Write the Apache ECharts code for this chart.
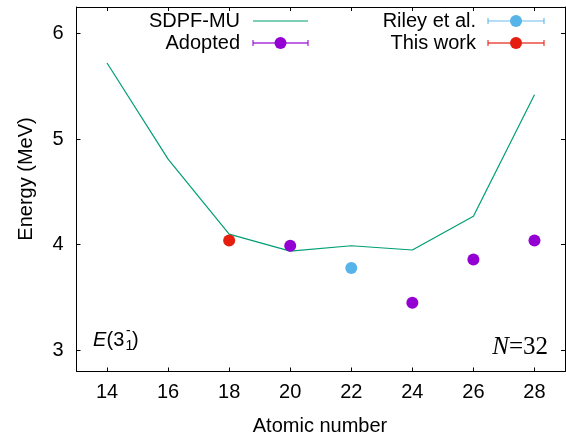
<!DOCTYPE html>
<html>
<head>
<meta charset="utf-8">
<title>E(3-) N=32</title>
<script src="https://cdn.jsdelivr.net/npm/echarts@6/dist/echarts.min.js"></script>
<style>
html,body{margin:0;padding:0;background:#fff;}
#main{width:566px;height:439px;}
</style>
</head>
<body>
<div id="main"></div>
<script>
// values
var zTicks = [14, 16, 18, 20, 22, 24, 26, 28];
var eTicks = [3, 4, 5, 6];
var sdpfZ = [14, 16, 18, 20, 22, 24, 26, 28];
var sdpfE = [5.72, 4.81, 4.10, 3.94, 3.99, 3.95, 4.27, 5.42];
var adoptedZ = [20, 24, 26, 28];
var adoptedE = [3.99, 3.45, 3.86, 4.04];
var rileyZ = [22];
var rileyE = [3.78];
var thisZ = [18];
var thisE = [4.04];

function pairs(xs, ys) {
    return xs.map(function (x, i) { return [x, ys[i]]; });
}

var FONT = '"Liberation Sans", Arial, sans-serif';
var cGreen = '#009e73', cPurple = '#9400d3', cBlue = '#56b4e9', cRed = '#e51e10';

var chart = echarts.init(document.getElementById('main'));

// legend entry: text right-aligned, then sample line with caps and marker
function legendItem(label, tx, y, x0, x1, color, withDot, lw) {
    var items = [{
        type: 'text', x: tx, y: y,
        style: { text: label, font: '20px ' + FONT, fill: '#000', align: 'right', verticalAlign: 'middle' }
    }];
    items.push({
        type: 'line', shape: { x1: x0, y1: y, x2: x1, y2: y },
        style: { stroke: color, lineWidth: lw, opacity: withDot ? 0.6 : 1 }
    });
    if (withDot) {
        items.push({ type: 'line', shape: { x1: x0, y1: y - 3, x2: x0, y2: y + 3 }, style: { stroke: color, lineWidth: 1.5, opacity: 0.7 } });
        items.push({ type: 'line', shape: { x1: x1, y1: y - 3, x2: x1, y2: y + 3 }, style: { stroke: color, lineWidth: 1.5, opacity: 0.7 } });
        items.push({ type: 'circle', shape: { cx: (x0 + x1) / 2, cy: y, r: 6 }, style: { fill: color } });
    }
    return items;
}

var graphics = []
    .concat(legendItem('SDPF-MU', 240, 21, 253, 308, cGreen, false, 1.2))
    .concat(legendItem('Adopted', 240, 43, 253, 308, cPurple, true, 2))
    .concat(legendItem('Riley et al.', 476, 21, 488, 544, cBlue, true, 1.5))
    .concat(legendItem('This work', 476, 43, 488, 544, cRed, true, 2));

// axis titles
graphics.push({
    type: 'text', x: 26, y: 179, rotation: Math.PI / 2,
    style: { text: 'Energy (MeV)', font: '20px ' + FONT, fill: '#000', align: 'center', verticalAlign: 'middle' }
});
graphics.push({
    type: 'text', x: 320, y: 426,
    style: { text: 'Atomic number', font: '20px ' + FONT, fill: '#000', align: 'center', verticalAlign: 'middle' }
});
// E(3-_1) label
var lbl = { fill: '#000', verticalAlign: 'middle' };
graphics.push({ type: 'text', x: 93, y: 340.5, style: Object.assign({ text: 'E', font: 'italic 20px ' + FONT }, lbl) });
graphics.push({ type: 'text', x: 106.5, y: 340.5, style: Object.assign({ text: '(3', font: '20px ' + FONT }, lbl) });
graphics.push({ type: 'text', x: 126, y: 331, style: Object.assign({ text: '-', font: '14px ' + FONT }, lbl) });
graphics.push({ type: 'text', x: 125.5, y: 346, style: Object.assign({ text: '1', font: '14px ' + FONT }, lbl) });
graphics.push({ type: 'text', x: 132, y: 340.5, style: Object.assign({ text: ')', font: '20px ' + FONT }, lbl) });
// N=32
graphics.push({
    type: 'text', x: 548, y: 360,
    style: {
        text: '{i|N}{r|=32}', align: 'right', verticalAlign: 'bottom',
        rich: {
            i: { font: 'italic 25px "Liberation Serif", serif', fill: '#000' },
            r: { font: '25px "Liberation Serif", serif', fill: '#000' }
        }
    }
});

function xAx(pos, showLabel) {
    return {
        type: 'value', position: pos, min: 13, max: 29,
        axisLine: { onZero: false, lineStyle: { color: '#000', width: 1 } },
        axisTick: { inside: true, length: 4, customValues: zTicks, lineStyle: { color: '#000' } },
        axisLabel: { show: showLabel, customValues: zTicks, margin: 11, fontSize: 20, color: '#000', fontFamily: FONT },
        splitLine: { show: false }
    };
}
function yAx(pos, showLabel) {
    return {
        type: 'value', position: pos, min: 2.8, max: 6.25,
        axisLine: { onZero: false, lineStyle: { color: '#000', width: 1 } },
        axisTick: { inside: true, length: 4, customValues: eTicks, lineStyle: { color: '#000' } },
        axisLabel: { show: showLabel, customValues: eTicks, margin: 13, fontSize: 20, color: '#000', fontFamily: FONT },
        splitLine: { show: false }
    };
}

var option = {
    backgroundColor: '#fff',
    animation: false,
    grid: { left: 76.5, right: 1, top: 7, bottom: 67.5 },
    xAxis: [xAx('bottom', true), xAx('top', false)],
    yAxis: [yAx('left', true), yAx('right', false)],
    graphic: graphics,
    series: [
        {
            name: 'SDPF-MU', type: 'line', data: pairs(sdpfZ, sdpfE),
            showSymbol: false, symbol: 'none',
            lineStyle: { color: cGreen, width: 1.2 }, z: 2
        },
        {
            name: 'Adopted', type: 'scatter', data: pairs(adoptedZ, adoptedE),
            symbolSize: 12, itemStyle: { color: cPurple, opacity: 1 }, z: 3
        },
        {
            name: 'Riley et al.', type: 'scatter', data: pairs(rileyZ, rileyE),
            symbolSize: 12, itemStyle: { color: cBlue, opacity: 1 }, z: 3
        },
        {
            name: 'This work', type: 'scatter', data: pairs(thisZ, thisE),
            symbolSize: 12, itemStyle: { color: cRed, opacity: 1 }, z: 3
        }
    ]
};
chart.setOption(option);
</script>
</body>
</html>
